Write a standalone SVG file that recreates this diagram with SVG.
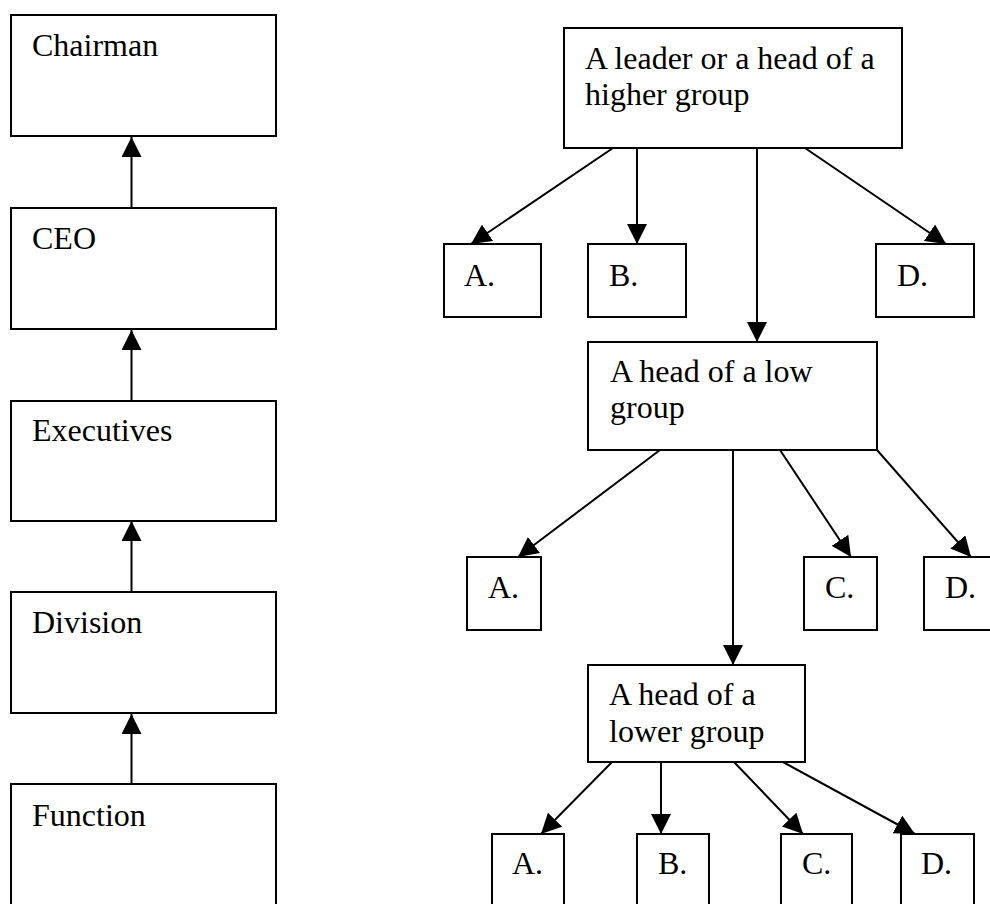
<svg xmlns="http://www.w3.org/2000/svg" width="990" height="904" viewBox="0 0 990 904">
  <style>
    .box { fill: #ffffff; stroke: #000000; stroke-width: 2; }
    .lbl { font-family: "Liberation Serif", "Times New Roman", serif; font-size: 32px; fill: #000000; }
    .link { fill: none; stroke: #000000; stroke-width: 2; marker-end: url(#head); }
  </style>
  <defs>
    <marker id="head" markerUnits="userSpaceOnUse" markerWidth="20" markerHeight="20" refX="20" refY="10" orient="auto" viewBox="0 0 20 20">
      <path d="M0,0 L20,10 L0,20 Z" fill="#000000"/>
    </marker>
  </defs>
  <rect width="990" height="904" fill="#ffffff"/>

  <!-- connectors -->
  <g id="connectors">
    <!-- left chain, pointing upward -->
    <line class="link" x1="131.5" y1="208" x2="131.5" y2="137"/>
    <line class="link" x1="131.5" y1="401" x2="131.5" y2="330"/>
    <line class="link" x1="131.5" y1="592" x2="131.5" y2="521"/>
    <line class="link" x1="131.5" y1="784" x2="131.5" y2="714"/>
    <!-- higher group -->
    <line class="link" x1="613" y1="148" x2="471" y2="244"/>
    <line class="link" x1="637" y1="148" x2="637" y2="244"/>
    <line class="link" x1="757" y1="148" x2="757" y2="342"/>
    <line class="link" x1="805" y1="148" x2="946" y2="244"/>
    <!-- low group -->
    <line class="link" x1="660" y1="450" x2="518" y2="557"/>
    <line class="link" x1="733" y1="450" x2="733" y2="665"/>
    <line class="link" x1="780" y1="450" x2="851" y2="557"/>
    <line class="link" x1="877" y1="450" x2="971" y2="557"/>
    <!-- lower group -->
    <line class="link" x1="612" y1="762" x2="541" y2="834"/>
    <line class="link" x1="661" y1="762" x2="661" y2="834"/>
    <line class="link" x1="734" y1="762" x2="803" y2="834"/>
    <line class="link" x1="783" y1="762" x2="915" y2="834"/>
  </g>

  <!-- left column -->
  <g id="chairman"><rect class="box" x="11" y="15" width="265" height="121"/><text class="lbl" x="32" y="56">Chairman</text></g>
  <g id="ceo"><rect class="box" x="11" y="208" width="265" height="121"/><text class="lbl" x="32" y="249">CEO</text></g>
  <g id="executives"><rect class="box" x="11" y="401" width="265" height="120"/><text class="lbl" x="32" y="441">Executives</text></g>
  <g id="division"><rect class="box" x="11" y="592" width="265" height="121"/><text class="lbl" x="32" y="633">Division</text></g>
  <g id="function"><rect class="box" x="11" y="784" width="265" height="130"/><text class="lbl" x="32" y="826">Function</text></g>

  <!-- higher group -->
  <g id="higher"><rect class="box" x="564" y="28" width="338" height="120"/>
    <text class="lbl" x="585" y="69">A leader or a head of a</text>
    <text class="lbl" x="585" y="105">higher group</text></g>
  <g id="h-a"><rect class="box" x="444" y="244" width="97" height="73"/><text class="lbl" x="464" y="286">A.</text></g>
  <g id="h-b"><rect class="box" x="588" y="244" width="98" height="73"/><text class="lbl" x="609" y="286">B.</text></g>
  <g id="h-d"><rect class="box" x="876" y="244" width="98" height="73"/><text class="lbl" x="897" y="286">D.</text></g>

  <!-- low group -->
  <g id="low"><rect class="box" x="588" y="342" width="289" height="108"/>
    <text class="lbl" x="610" y="382">A head of a low</text>
    <text class="lbl" x="610" y="418">group</text></g>
  <g id="l-a"><rect class="box" x="467" y="557" width="74" height="73"/><text class="lbl" x="488" y="598">A.</text></g>
  <g id="l-c"><rect class="box" x="804" y="557" width="73" height="73"/><text class="lbl" x="825" y="598">C.</text></g>
  <g id="l-d"><rect class="box" x="924" y="557" width="74" height="73"/><text class="lbl" x="945" y="598">D.</text></g>

  <!-- lower group -->
  <g id="lower"><rect class="box" x="588" y="665" width="217" height="97"/>
    <text class="lbl" x="609" y="705">A head of a</text>
    <text class="lbl" x="609" y="742">lower group</text></g>
  <g id="w-a"><rect class="box" x="492" y="834" width="72" height="80"/><text class="lbl" x="512" y="874">A.</text></g>
  <g id="w-b"><rect class="box" x="637" y="834" width="72" height="80"/><text class="lbl" x="658" y="874">B.</text></g>
  <g id="w-c"><rect class="box" x="781" y="834" width="71" height="80"/><text class="lbl" x="802" y="874">C.</text></g>
  <g id="w-d"><rect class="box" x="901" y="834" width="73" height="80"/><text class="lbl" x="921" y="874">D.</text></g>
</svg>
